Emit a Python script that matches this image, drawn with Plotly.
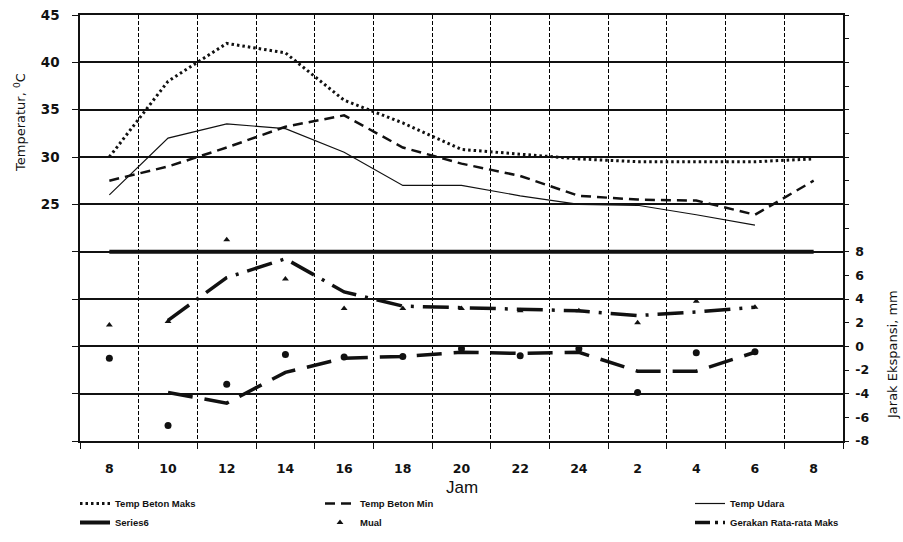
import plotly.graph_objects as go

# ---------------- data ----------------
jam_labels = ["8", "10", "12", "14", "16", "18", "20", "22", "24", "2", "4", "6", "8"]

temp_beton_maks = [30.0, 38.0, 42.0, 41.0, 36.0, 33.6, 30.8, 30.3, 29.8, 29.5, 29.5, 29.5, 29.8]
temp_beton_min = [27.5, 29.0, 31.0, 33.2, 34.4, 31.0, 29.3, 28.0, 25.9, 25.5, 25.4, 23.9, 27.5]
temp_udara = [26.0, 32.0, 33.5, 33.0, 30.5, 27.0, 27.0, 25.9, 25.0, 24.9, 23.9, 22.8, None]
series6 = [20, 20, 20, 20, 20, 20, 20, 20, 20, 20, 20, 20, 20]

mual = [1.8, 2.1, 9.0, 5.7, 3.2, 3.2, 3.2, 3.0, 3.0, 2.0, 3.8, 3.3, None]
gerakan_maks = [None, 2.2, 5.8, 7.4, 4.6, 3.4, 3.25, 3.1, 3.0, 2.6, 2.9, 3.3, None]
titik_min = [-1.0, -6.7, -3.2, -0.7, -0.9, -0.85, -0.2, -0.8, -0.2, -3.9, -0.55, -0.45, None]
gerakan_min = [None, -3.9, -4.8, -2.2, -1.0, -0.85, -0.5, -0.6, -0.5, -2.1, -2.1, -0.5, None]

x_idx = list(range(len(jam_labels)))

# ---------------- layout helpers ----------------
W, H = 903, 542
L, R, T, B = 80, 843, 15, 441


def px_x(p):
    return (p - L) / (R - L)


def px_y(p):
    return (B - p) / (B - T)


INK = "#111111"
FONT_TICK = dict(family="DejaVu Sans", size=12.5, color=INK)
FONT_YTICK = dict(family="DejaVu Sans", size=13.5, color=INK)
FONT_LEG = dict(family="Liberation Sans Narrow, Liberation Sans, Arial", size=9.5, color=INK)
DASHDOT_MAIN = "26px,9px,3px,9px"
DASHDOT_LEG = "15px,5px,3px,5px"

fig = go.Figure()

fig.add_trace(go.Scatter(x=x_idx, y=temp_beton_maks, name="<b>Temp Beton Maks</b>", mode="lines",
                         line=dict(color=INK, width=3, dash="2.5px,3px"), legend="legend"))
fig.add_trace(go.Scatter(x=x_idx, y=temp_beton_min, name="<b>Temp Beton Min</b>", mode="lines",
                         line=dict(color=INK, width=2.5, dash="10px,6px"), legend="legend2"))
fig.add_trace(go.Scatter(x=x_idx, y=temp_udara, name="<b>Temp Udara</b>", mode="lines",
                         line=dict(color=INK, width=1.2), legend="legend3"))
fig.add_trace(go.Scatter(x=x_idx, y=series6, name="<b>Series6</b>", mode="lines",
                         line=dict(color=INK, width=4), legend="legend"))
fig.add_trace(go.Scatter(x=x_idx, y=mual, name="<b>Mual</b>", mode="markers", yaxis="y2",
                         marker=dict(symbol="triangle-up", size=6, color=INK), legend="legend2"))
# moving-average line (drawn) + its legend sample with a shorter dash pattern
fig.add_trace(go.Scatter(x=x_idx, y=gerakan_maks, name="Gerakan Rata-rata Maks", mode="lines",
                         yaxis="y2", showlegend=False,
                         line=dict(color=INK, width=3.5, dash=DASHDOT_MAIN)))
fig.add_trace(go.Scatter(x=[None], y=[None], name="<b>Gerakan Rata-rata Maks</b>", mode="lines",
                         yaxis="y2", line=dict(color=INK, width=3.5, dash=DASHDOT_LEG), legend="legend3"))
fig.add_trace(go.Scatter(x=x_idx, y=titik_min, name="Min", mode="markers", yaxis="y2", showlegend=False,
                         marker=dict(symbol="circle", size=7, color=INK)))
fig.add_trace(go.Scatter(x=x_idx, y=gerakan_min, name="Gerakan Rata-rata Min", mode="lines", yaxis="y2",
                         showlegend=False, line=dict(color=INK, width=3.5, dash="25px,12px")))

left_vals = list(range(0, 46, 5))
left_text = [str(v) if v >= 25 else "" for v in left_vals]
right_vals = list(range(-8, 29, 2))
right_text = [str(v) if v <= 8 else "" for v in right_vals]

leg_common = dict(xanchor="left", yanchor="top", font=FONT_LEG,
                  bgcolor="rgba(0,0,0,0)", tracegroupgap=0, itemwidth=30)

fig.update_layout(
    width=W, height=H, autosize=False,
    margin=dict(l=L, r=W - R, t=T, b=H - B, pad=0, autoexpand=False),
    paper_bgcolor="white", plot_bgcolor="white",
    xaxis=dict(
        range=[-0.5, len(jam_labels) - 0.5],
        tickmode="array", tickvals=x_idx, ticktext=["<b>%s</b>" % s for s in jam_labels],
        ticks="outside", ticklen=15, tickcolor="rgba(0,0,0,0)",
        tickfont=FONT_TICK, showgrid=False, zeroline=False,
        showline=True, linecolor=INK, linewidth=1.5, mirror=True,
        minor=dict(tickmode="array", tickvals=[i - 0.5 for i in range(len(jam_labels) + 1)],
                   ticks="outside", ticklen=6, tickcolor=INK, tickwidth=1,
                   showgrid=True, gridcolor="#000000", gridwidth=1, griddash="4px,2px"),
    ),
    yaxis=dict(
        range=[0, 45], tickmode="array", tickvals=left_vals,
        ticktext=["<b>%s</b>" % s if s else "" for s in left_text],
        ticks="outside", ticklen=6, tickcolor=INK, tickfont=FONT_YTICK, ticklabelstandoff=10,
        showgrid=True, gridcolor=INK, gridwidth=1.5, zeroline=False,
        showline=True, linecolor=INK, linewidth=1.5,
    ),
    yaxis2=dict(
        overlaying="y", side="right", range=[-8, 28], tickmode="array", tickvals=right_vals,
        ticktext=["<b>%s</b>" % s if s else "" for s in right_text],
        ticks="outside", ticklen=4, tickcolor=INK, tickfont=FONT_TICK, ticklabelstandoff=4,
        showgrid=False, zeroline=False, showline=True, linecolor=INK, linewidth=1.5,
    ),
    legend=dict(x=px_x(75), y=px_y(489), **leg_common),
    legend2=dict(x=px_x(320), y=px_y(489), **leg_common),
    legend3=dict(x=px_x(690), y=px_y(489), **leg_common),
    showlegend=True,
)

fig.add_annotation(text="Temperatur, <sup>0</sup>C", xref="paper", yref="paper",
                   x=px_x(20), y=px_y(123), xanchor="center", yanchor="middle",
                   textangle=-90, showarrow=False,
                   font=dict(family="DejaVu Sans", size=13, color=INK))
fig.add_annotation(text="Jarak Ekspansi, mm", xref="paper", yref="paper",
                   x=px_x(892), y=px_y(355), xanchor="center", yanchor="middle",
                   textangle=-90, showarrow=False,
                   font=dict(family="DejaVu Sans", size=13, color=INK))
fig.add_annotation(text="Jam", xref="paper", yref="paper",
                   x=px_x(462), y=px_y(487), xanchor="center", yanchor="middle", showarrow=False,
                   font=dict(family="Liberation Sans Narrow, Liberation Sans, Arial", size=17, color=INK))

fig.write_html("out.html", config={"displayModeBar": False},
               post_script="document.body.style.margin='0';document.body.style.padding='0';")
